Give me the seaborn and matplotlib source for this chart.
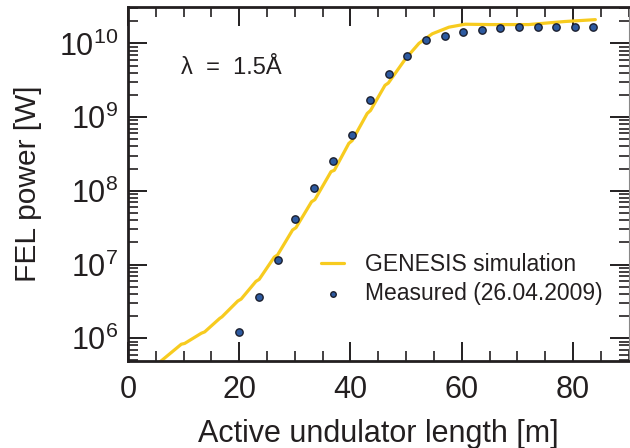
import numpy as np
import matplotlib
matplotlib.use("Agg")
import matplotlib.pyplot as plt
import matplotlib.ticker as mticker
import seaborn as sns
import pandas as pd

# GENESIS simulation
sim_x = [5.8, 9.6, 10.2, 13.2, 13.8, 16.5, 16.9, 19.75, 20.35, 23.0, 23.6, 26.3, 26.9,
         29.6, 30.2, 33.0, 33.6, 36.5, 37.1, 39.7, 40.3, 43.0, 43.6, 46.2, 46.8,
         49.9, 52.3, 54.7, 57.7, 60.6, 65.0, 72.0, 78.5, 84.0]
sim_p = [4.8e5, 8.3e5, 8.5e5, 1.17e6, 1.22e6, 1.86e6, 1.95e6, 3.2e6, 3.4e6, 5.9e6, 6.3e6,
         1.26e7, 1.35e7, 2.95e7, 3.16e7, 7.1e7, 7.6e7, 1.82e8, 1.9e8, 4.4e8, 4.8e8,
         1.12e9, 1.23e9, 2.7e9, 2.9e9, 6.2e9, 1.0e10, 1.35e10, 1.66e10, 1.82e10,
         1.8e10, 1.8e10, 1.98e10, 2.1e10]

# measured points (26.04.2009)
meas_x = [20.0, 23.6, 26.9, 30.1, 33.5, 36.9, 40.2, 43.5, 46.9, 50.2, 53.5, 56.9,
          60.2, 63.6, 66.9, 70.2, 73.7, 77.0, 80.3, 83.6]
meas_p = [1.2e6, 3.6e6, 1.15e7, 4.2e7, 1.1e8, 2.5e8, 5.8e8, 1.7e9, 3.9e9, 6.8e9,
          1.1e10, 1.25e10, 1.43e10, 1.53e10, 1.6e10, 1.66e10, 1.66e10, 1.68e10,
          1.66e10, 1.66e10]

x_ticks = [0, 20, 40, 60, 80]

dark = "#231f20"
gold = "#f7cb1f"

sns.set_theme(style="ticks")
plt.rcParams["font.family"] = ["Liberation Sans", "DejaVu Sans"]
plt.rcParams["mathtext.fontset"] = "custom"
plt.rcParams["mathtext.rm"] = "Liberation Sans"

fig = plt.figure(figsize=(6.3, 4.48), dpi=100)
ax = fig.add_axes([0.203, 0.194, 0.795, 0.790])

sim = pd.DataFrame({"x": sim_x, "p": sim_p})
meas = pd.DataFrame({"x": meas_x, "p": meas_p})

sns.lineplot(data=sim, x="x", y="p", color=gold, linewidth=2.3,
             label="GENESIS simulation", ax=ax, zorder=2)
sns.scatterplot(data=meas, x="x", y="p", color="#2d5aa0", edgecolor="#1b1f2e",
                linewidth=1.0, s=28, label="Measured (26.04.2009)", ax=ax, zorder=3)

ax.set_yscale("log")
ax.set_xlim(0, 90)
ax.set_ylim(4.9e5, 3.1e10)
ax.set_xticks(x_ticks)
ax.xaxis.set_minor_locator(mticker.MultipleLocator(5))
ax.yaxis.set_major_locator(mticker.LogLocator(base=10, numticks=20))
ax.yaxis.set_minor_locator(mticker.LogLocator(base=10, subs=np.arange(2, 10), numticks=20))
ax.yaxis.set_minor_formatter(mticker.NullFormatter())

for s in ax.spines.values():
    s.set_linewidth(2.0)
    s.set_color(dark)
ax.spines["right"].set_linewidth(0.8)
ax.spines["right"].set_color("#888888")

ax.tick_params(which="both", direction="in", top=True, right=True, colors=dark)
ax.tick_params(which="major", length=14, width=1.4, labelsize=22, pad=10)
ax.tick_params(which="minor", length=7, width=1.2)
ax.tick_params(axis="y", which="major", pad=7)

ax.set_xlabel("Active undulator length [m]", fontsize=22, color=dark, labelpad=10)
ax.set_ylabel("FEL power [W]", fontsize=21.5, color=dark, labelpad=12)

ax.text(0.106, 0.81, "λ  =  1.5Å", transform=ax.transAxes, fontsize=17, color=dark)

leg = ax.legend(loc="center left", bbox_to_anchor=(0.363, 0.232), frameon=False,
                fontsize=16.5, handlelength=1.0, handletextpad=0.9, borderpad=0,
                labelspacing=0.3, markerscale=0.75)
for t in leg.get_texts():
    t.set_color(dark)

fig.savefig("out.png", dpi=100)
